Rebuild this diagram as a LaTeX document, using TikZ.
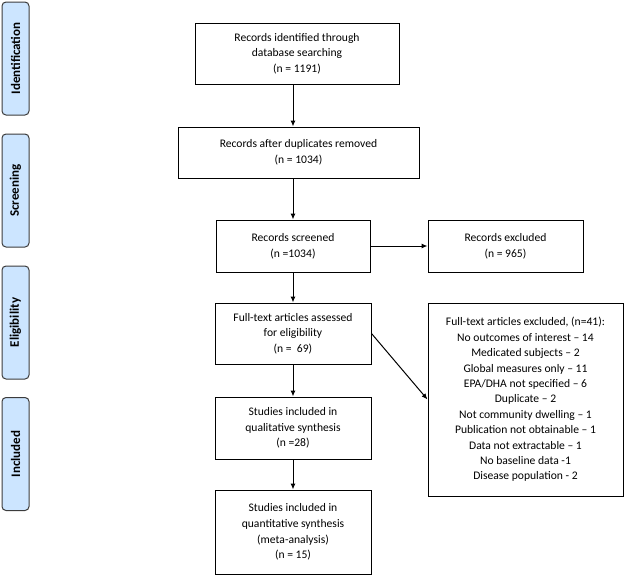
\documentclass[tikz,border=0pt]{standalone}
\usepackage{fontspec}
\setmainfont{Carlito}
\usetikzlibrary{arrows.meta,calc}
\definecolor{stageblue}{RGB}{204,229,255}
\definecolor{stageline}{RGB}{60,60,60}
\tikzset{
  box/.style={draw,line width=1pt,inner sep=0pt,align=center,font=\fontsize{11.6}{15.6}\selectfont},
  stage/.style={draw=stageline,line width=1pt,fill=stageblue,rounded corners=4pt,rotate=90,
    minimum width=113pt,minimum height=27pt,inner sep=0pt,font=\fontsize{13}{15}\selectfont\bfseries},
  flow/.style={-{Latex[length=6pt,width=5pt]},line width=1pt}
}
\begin{document}
\begin{tikzpicture}[x=1pt,y=-1pt]
    \useasboundingbox(0,0)rectangle(625,576);
    % stages
    \node[stage](ident)at(15.5,58.5){Identification};
    \node[stage](screen)at(15.5,190.5){Screening};
    \node[stage](elig)at(15.5,322.5){Eligibility};
    \node[stage](incl)at(15.5,454){Included};
    % main column
    \node[box,minimum width=204pt,minimum height=61pt](found)at(297,53.5){Records identified through\\database searching\\(n = 1191)};
    \node[box,minimum width=241pt,minimum height=51pt](dedup)at(298.5,152.5){Records after duplicates removed\\(n = 1034)};
    \node[box,minimum width=154pt,minimum height=52pt](screened)at(293,246){Records screened\\(n =1034)};
    \node[box,minimum width=156pt,minimum height=61pt](assessed)at(293,333.5){Full-text articles assessed\\for eligibility\\(n =\ \ 69)};
    \node[box,minimum width=156pt,minimum height=62pt](qual)at(293,428){Studies included in\\qualitative synthesis\\(n =28)};
    \node[box,minimum width=156pt,minimum height=84pt](quant)at(293,532){Studies included in\\quantitative synthesis\\(meta-analysis)\\(n = 15)};
    % exclusions
    \node[box,minimum width=155pt,minimum height=52pt](excl)at(505.5,246){Records excluded\\(n = 965)};
    \node[box,minimum width=195pt,minimum height=193pt,font=\fontsize{11.6}{15.4}\selectfont](fullexcl)at(525.5,399.5){Full-text articles excluded, (n=41):\\
      No outcomes of interest -- 14\\Medicated subjects -- 2\\Global measures only -- 11\\
      EPA/DHA not specified -- 6\\Duplicate -- 2\\Not community dwelling -- 1\\
      Publication not obtainable -- 1\\Data not extractable -- 1\\No baseline data -1\\Disease population - 2};
    % arrows
    \draw[flow](found.south-|screened.north)--(dedup.north-|screened.north);
    \draw[flow](dedup.south-|screened.north)--(screened.north);
    \draw[flow](screened.east)--(excl.west);
    \draw[flow](screened.south)--(assessed.north);
    \draw[flow](assessed.south)--(qual.north);
    \draw[flow](qual.south)--(quant.north);
    \draw[flow](assessed.east)--(fullexcl.west);
\end{tikzpicture}
\end{document}
